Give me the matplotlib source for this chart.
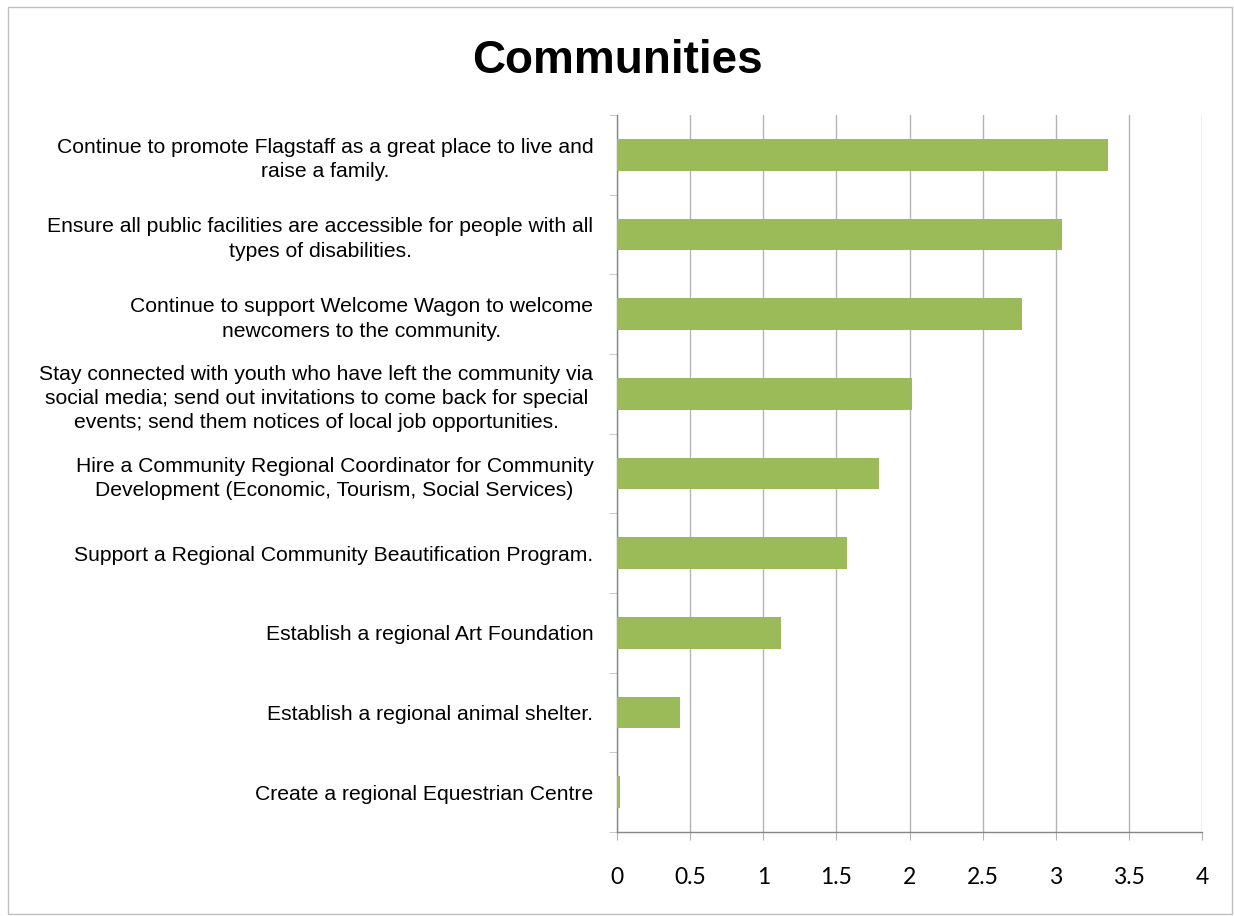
import matplotlib.pyplot as plt
from matplotlib.patches import Rectangle

labels = [
    "Continue to promote Flagstaff as a great place to live and\nraise a family.",
    "Ensure all public facilities are accessible for people with all\ntypes of disabilities.",
    "Continue to support Welcome Wagon to welcome\nnewcomers to the community.",
    "Stay connected with youth who have left the community via\nsocial media; send out invitations to come back for special\nevents; send them notices of local job opportunities.",
    "Hire a Community Regional Coordinator for Community\nDevelopment (Economic, Tourism, Social Services)",
    "Support a Regional Community Beautification Program.",
    "Establish a regional Art Foundation",
    "Establish a regional animal shelter.",
    "Create a regional Equestrian Centre",
]
scores = [3.36, 3.04, 2.77, 2.02, 1.79, 1.57, 1.12, 0.43, 0.02]
xticks = [0, 0.5, 1, 1.5, 2, 2.5, 3, 3.5, 4]

bar_color = "#9bbb59"
grid_color = "#b3b3b3"
axis_color = "#868686"

fig = plt.figure(figsize=(12.34, 9.16), dpi=100)
ax = fig.add_axes([617 / 1234, 1 - 832 / 916, (1202 - 617) / 1234, (832 - 115) / 916])

# bottom-up order so the first label sits at the top
ypos = list(range(len(labels)))[::-1]
ax.barh(ypos, scores, height=0.4, color=bar_color, zorder=3)

ax.set_xlim(0, 4)
ax.set_ylim(-0.5, len(labels) - 0.5)
ax.set_xticks(xticks)
ax.set_xticklabels([f"{t:g}" for t in xticks], fontsize=16.5, fontfamily="Lato")
ax.xaxis.grid(True, color=grid_color, linewidth=1, zorder=0)

# category labels centred between boundary ticks
ax.set_yticks(ypos)
ax.set_yticklabels(labels, fontsize=15.2, fontfamily="Liberation Sans",
                   multialignment="center", linespacing=1.36)
ax.tick_params(axis="y", length=0, pad=17)
ax.set_yticks([i - 0.5 for i in range(len(labels) + 1)], minor=True)
ax.tick_params(axis="y", which="minor", length=6, color="#bfbfbf")
ax.tick_params(axis="x", length=6, color=grid_color, pad=19)

for side in ["top", "right"]:
    ax.spines[side].set_visible(False)
for side in ["left", "bottom"]:
    ax.spines[side].set_color(axis_color)
    ax.spines[side].set_linewidth(1)

fig.text(0.5, 1 - 73 / 916, "Communities", ha="center", va="baseline",
         fontsize=33, fontweight="bold", fontfamily="Liberation Sans")

fig.patches.append(Rectangle((8 / 1234, 2 / 916), 1224 / 1234, 907 / 916,
                             transform=fig.transFigure, fill=False,
                             edgecolor="#bfbfbf", linewidth=1))

fig.savefig("out.png", dpi=100)
